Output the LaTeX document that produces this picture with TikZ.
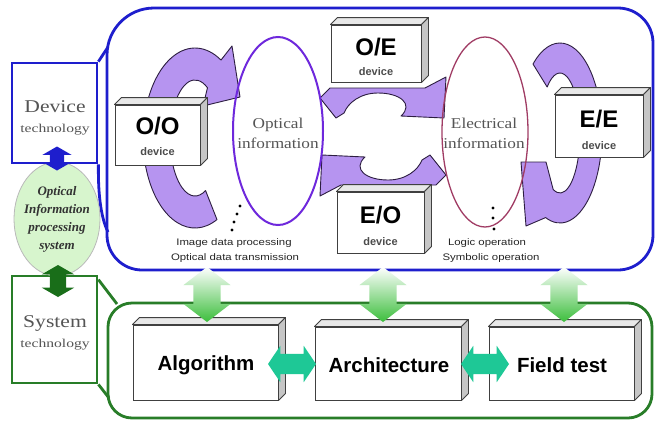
\documentclass[tikz,border=0pt]{standalone}
\usepackage{fontspec}
\setmainfont{Liberation Serif}
\newfontfamily\arialf{Liberation Sans}
\usetikzlibrary{calc,shapes.geometric,shapes.arrows}
\definecolor{bl}{RGB}{30,30,205}
\definecolor{gr}{RGB}{40,125,40}
\definecolor{dgr}{RGB}{25,110,25}
\definecolor{lav}{RGB}{182,148,240}
\definecolor{arrline}{RGB}{45,30,65}
\definecolor{optc}{RGB}{110,40,220}
\definecolor{elec}{RGB}{160,60,100}
\definecolor{teal2}{RGB}{30,200,150}
\definecolor{lgreen}{RGB}{215,245,205}
\definecolor{txtg}{RGB}{85,85,85}
\definecolor{vgreen}{RGB}{60,190,60}
\newcommand\sx[2][1.15]{\scalebox{#1}[1]{#2}}
\newcommand\boxfaces[1]{%
  \filldraw[face, fill=gray!18] (#1.north west) -- ++(7,-7) -- ($(#1.north east)+(7,-7)$) -- (#1.north east) -- cycle;
  \filldraw[face, fill=gray!45] (#1.north east) -- ++(7,-7) -- ($(#1.south east)+(7,-7)$) -- (#1.south east) -- cycle;}
\begin{document}
\begin{tikzpicture}[x=1pt,y=-1pt,
  purp/.style={fill=lav, draw=arrline, line width=0.9pt, line join=round},
  dev/.style={draw=black!75, fill=white, line width=0.9pt, inner sep=0},
  face/.style={draw=black!75, line width=0.9pt, line join=round},
  bigl/.style={font=\arialf\bfseries\fontsize{24}{24}\selectfont},
  smalll/.style={font=\arialf\bfseries\fontsize{11}{11}\selectfont, text=black!70},
  bottl/.style={font=\arialf\bfseries\fontsize{20.5}{20.5}\selectfont},
  capt/.style={font=\arialf\fontsize{9.5}{9.5}\selectfont, text=black!85},
  info/.style={font=\fontsize{15}{20}\selectfont, text=txtg, align=center},
  techbox/.style={line width=2.8pt, fill=white, inner sep=0, minimum width=85},
  vgarrow/.style={double arrow, shape border rotate=90, double arrow tip angle=105,
     inner sep=13.5, double arrow head extend=10, minimum height=55, top color=white, bottom color=vgreen, draw=none},
  tarrow/.style={double arrow, double arrow tip angle=112, inner sep=10,
     double arrow head extend=8, minimum height=48, fill=teal2, draw=none},
  smarrow/.style={double arrow, shape border rotate=90, double arrow tip angle=120, inner sep=7,
     double arrow head extend=7.5, draw=none}
]
\fill[white] (0,0) rectangle (656,421);
\useasboundingbox (0,0) rectangle (656,421);

% --- device technology region (blue)
\draw[bl, line width=2.8pt] (107,55) arc[start angle=180, end angle=270, radius=47] -- (618,8)
   arc[start angle=270, end angle=360, radius=35] -- (653,235)
   arc[start angle=0, end angle=90, radius=35] -- (142,270)
   arc[start angle=90, end angle=180, radius=35] -- cycle;
\node[techbox, draw=bl, minimum height=100] (devbox) at (54.5,113) {};
\coordinate (bt1) at (108,47);
\coordinate (bt2) at (108,232);
\draw[bl, line width=2.8pt] (devbox.north east) -- (bt1);
\draw[bl, line width=2.8pt] (devbox.south east) .. controls (98,195) and (101,218) .. (bt2);
\node[text=txtg, font=\fontsize{18}{18}\selectfont] (devt1) at (55,107) {\sx[1.2]{Device}};
\node[text=txtg, font=\fontsize{12}{12}\selectfont] (devt2) at (55,130) {\sx[1.3]{technology}};

% --- system technology region (green)
\draw[gr, line width=2.8pt, rounded corners=24] (108,303) rectangle (652,418);
\node[techbox, draw=gr, minimum height=107] (sysbox) at (54.5,329.5) {};
\coordinate (gt1) at (117,304);
\coordinate (gt2) at (109,398);
\draw[gr, line width=2.8pt] ($(sysbox.north east)+(0,5)$) -- (gt1);
\draw[gr, line width=2.8pt] (sysbox.south east) -- (gt2);
\node[text=txtg, font=\fontsize{18}{18}\selectfont] (syst1) at (55,323) {\sx[1.2]{System}};
\node[text=txtg, font=\fontsize{12}{12}\selectfont] (syst2) at (55,345) {\sx[1.3]{technology}};

% --- green ellipse
\node[ellipse, draw=gray!55, fill=lgreen, line width=0.8pt, minimum width=86, minimum height=114, inner sep=0] (oips) at (57,219) {};
\node[font=\bfseries\itshape\fontsize{13}{18}\selectfont, text=black!80, align=center] (oipst) at (57,219)
  {Optical\\Information\\processing\\system};
\node[smarrow, fill=bl, minimum height=24] (ba) at (57,158.5) {};
\node[smarrow, fill=dgr, minimum height=32, inner sep=8, double arrow head extend=8] (ga) at (58,281) {};

% --- purple arrows
% O/O loop
\filldraw[purp] ($(195,138)+(65:52 and 90)$) arc[start angle=65, end angle=300, x radius=52, y radius=90]
   -- (232,46) -- (240,97) -- (203,106) -- ($(195,138)+(300:25 and 58)$)
   arc[start angle=300, end angle=65, x radius=25, y radius=58] -- cycle;
% E/E loop
\filldraw[purp] ($(560,133)+(230:42 and 90)$) arc[start angle=230, end angle=470, x radius=42, y radius=90]
   -- (526,226) -- (521,162) -- (546,162) -- ($(560,133)+(470:20 and 60)$)
   arc[start angle=470, end angle=230, x radius=20, y radius=60] -- cycle;
% middle cycle
\filldraw[purp] (320,98) -- (330,88) -- (425,88) -- (446,77) -- (444,118) -- (401,116)
   .. controls (414,104) and (400,93) .. (378,93) .. controls (360,93) and (348,103) .. (344,113)
   -- (336,118) -- cycle;
\begin{scope}[rotate around={180:(383,136.5)}]
\filldraw[purp] (320,98) -- (330,88) -- (425,88) -- (446,77) -- (444,118) -- (401,116)
   .. controls (414,104) and (400,93) .. (378,93) .. controls (360,93) and (348,103) .. (344,113)
   -- (336,118) -- cycle;
\end{scope}

% --- information ellipses
\node[ellipse, draw=optc, line width=2pt, minimum width=90, minimum height=188, inner sep=0] (opt) at (278,131) {};
\node[ellipse, draw=elec, line width=1.3pt, minimum width=86, minimum height=190, inner sep=0] (ele) at (485,132) {};
\node[info] (optt) at (278,133) {\sx{Optical}\\\sx{information}};
\node[info] (elet) at (484,133) {\sx{Electrical}\\\sx{information}};

% --- devices
\node[dev, minimum width=85, minimum height=60] (oo) at (157.5,135) {};
\boxfaces{oo}
\node[bigl] (oot) at (157.5,126) {O/O};
\node[smalll] (ood) at (157.5,152) {device};

\node[dev, minimum width=90, minimum height=57] (oe) at (376,53.5) {};
\boxfaces{oe}
\node[bigl] (oet) at (376,47) {O/E};
\node[smalll] (oed) at (376,72) {device};

\node[dev, minimum width=87, minimum height=61] (eo) at (380.5,222.5) {};
\boxfaces{eo}
\node[bigl] (eot) at (380.5,215) {E/O};
\node[smalll] (eod) at (380.5,242) {device};

\node[dev, minimum width=88, minimum height=62] (ee) at (599,126) {};
\boxfaces{ee}
\node[bigl] (eet) at (599,119) {E/E};
\node[smalll] (eed) at (599,146) {device};

% --- dots and captions
\foreach \p in {(240,206),(237,214),(234,222),(232,230)} \fill \p circle (1.6);
\foreach \p in {(493,208),(493,218),(494,229)} \fill \p circle (1.6);
\node[capt] (c1) at (234,243) {\sx[1.2]{Image data processing}};
\node[capt] (c2) at (235,258) {\sx[1.2]{Optical data transmission}};
\node[capt] (c3) at (487,243) {\sx[1.2]{Logic operation}};
\node[capt] (c4) at (491,258) {\sx[1.2]{Symbolic operation}};

% --- bottom boxes
\node[dev, minimum width=145, minimum height=75] (alg) at (205.5,362.5) {};
\boxfaces{alg}
\node[bottl] (algt) at (206,365) {Algorithm};
\node[dev, minimum width=146, minimum height=73] (arch) at (388,363.5) {};
\boxfaces{arch}
\node[bottl] (archt) at (389,365) {Architecture};
\node[dev, minimum width=145, minimum height=73] (fld) at (561.5,363.5) {};
\boxfaces{fld}
\node[bottl] (fldt) at (562,365) {Field test};

\node[tarrow] (t1) at (292,364) {};
\node[tarrow] (t2) at (485,364) {};

% --- vertical green arrows
\node[vgarrow] (v1) at (207,294.5) {};
\node[vgarrow] (v2) at (383,294.5) {};
\node[vgarrow] (v3) at (564,294.5) {};
\end{tikzpicture}
\end{document}
